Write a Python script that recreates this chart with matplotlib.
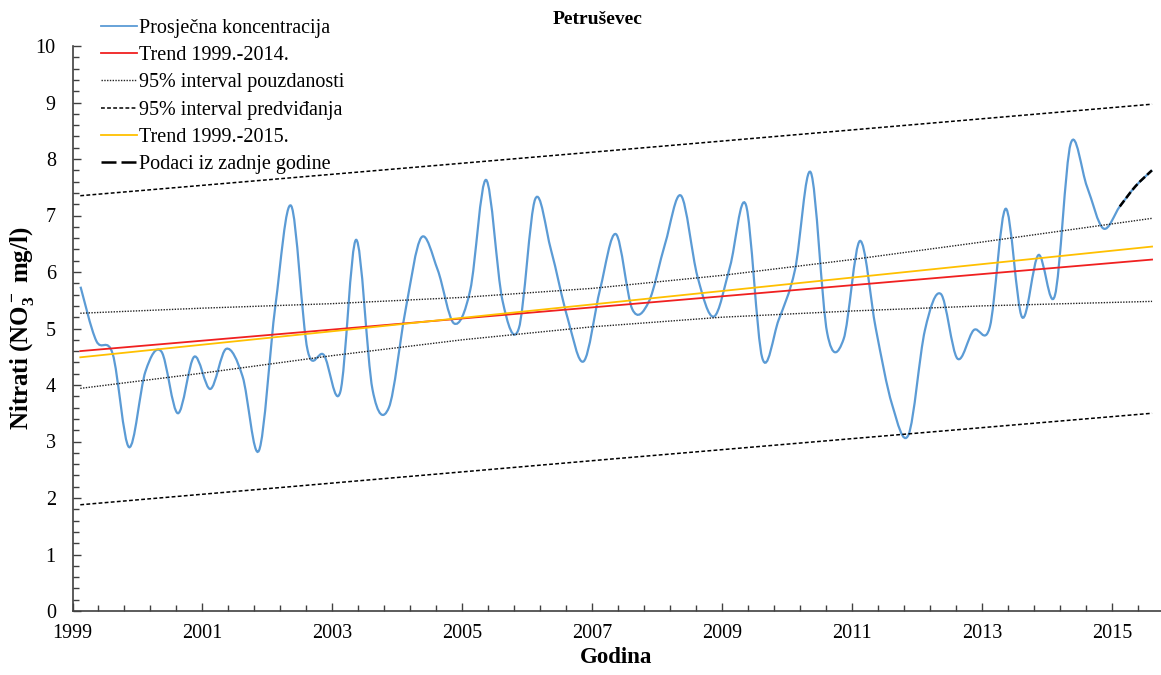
import numpy as np
import pandas as pd
import matplotlib
matplotlib.use("Agg")
import matplotlib.pyplot as plt
from matplotlib.path import Path
from matplotlib.patches import PathPatch
from matplotlib.lines import Line2D
from matplotlib.ticker import FixedLocator, FuncFormatter

plt.rcParams['font.family'] = ['Liberation Serif', 'DejaVu Serif']
plt.rcParams['mathtext.fontset'] = 'custom'
plt.rcParams['mathtext.rm'] = 'Liberation Serif:bold'
plt.rcParams['mathtext.it'] = 'Liberation Serif:bold'
plt.rcParams['mathtext.bf'] = 'Liberation Serif:bold'

# quarterly sampling (Feb, May, Aug, Nov), 1999-02 .. 2015-08
dates = pd.date_range("1999-02-01", "2015-08-01", freq="3MS") + pd.Timedelta(days=14)
conc = [5.74, 4.78, 4.55, 2.90,
        4.24, 4.59, 3.50, 4.50,
        3.93, 4.64, 4.15, 2.84,
        5.40, 7.17, 4.62, 4.53,
        3.88, 6.57, 3.92, 3.60,
        5.30, 6.61, 6.04, 5.09,
        5.68, 7.63, 5.50, 5.00,
        7.29, 6.39, 5.20, 4.42,
        5.70, 6.67, 5.34, 5.47,
        6.50, 7.35, 5.92, 5.21,
        6.10, 7.19, 4.48, 5.15,
        6.04, 7.76, 4.92, 4.81,
        6.55, 5.00, 3.65, 3.12,
        4.97, 5.61, 4.47, 4.97,
        5.03, 7.12, 5.20, 6.30,
        5.58, 8.27, 7.51, 6.77,
        7.16, 7.52, 7.80]

# trend lines (start / end)
trend_x = [1999.12, 2015.62]
trend_9914 = [4.60, 6.22]
trend_9915 = [4.49, 6.45]

# 95% confidence band (read at several years)
ci_x = [1999.12, 2001, 2003, 2005, 2007, 2009, 2011, 2013, 2015.62]
ci_upper = [5.27, 5.36, 5.44, 5.55, 5.71, 5.94, 6.22, 6.53, 6.95]
ci_lower = [3.94, 4.21, 4.52, 4.80, 5.03, 5.20, 5.31, 5.40, 5.48]

# 95% prediction band
pi_x = [1999.12, 2007.3, 2015.62]
pi_upper = [7.35, 8.15, 8.97]
pi_lower = [1.88, 2.69, 3.50]

title = "Petruševec"
year_ticks = [1999, 2001, 2003, 2005, 2007, 2009, 2011, 2013, 2015]

c_blue = "#5B9BD5"
c_red = "#F02020"
c_yellow = "#FFC000"


def dec_year(d):
    return d.year + (d.dayofyear - 1) / 365.25


def smooth_path(x, y):
    # Excel-style smoothed line: cubic Bezier segments through the points
    p = np.column_stack([x, y])
    n = len(p)
    verts = [p[0]]
    codes = [Path.MOVETO]
    for i in range(n - 1):
        p0, p1 = p[max(i - 1, 0)], p[i]
        p2, p3 = p[i + 1], p[min(i + 2, n - 1)]
        verts += [p1 + (p2 - p0) / 6, p2 - (p3 - p1) / 6, p2]
        codes += [Path.CURVE4] * 3
    return Path(verts, codes)


x = np.array([dec_year(d) for d in dates])
y = np.array(conc)

fig = plt.figure(figsize=(11.61, 6.75), dpi=100)
ax = fig.add_axes([72.5 / 1161, 64 / 675, 1088 / 1161, 565 / 675])

ax.plot(pi_x, pi_upper, color="black", lw=1.1, ls=(0, (2.5, 1.5)))
ax.plot(pi_x, pi_lower, color="black", lw=1.1, ls=(0, (2.5, 1.5)))
ax.plot(ci_x, ci_upper, color="#222222", lw=1.0, ls=(0, (1, 1)))
ax.plot(ci_x, ci_lower, color="#222222", lw=1.0, ls=(0, (1, 1)))
ax.plot(trend_x, trend_9914, color=c_red, lw=1.3)
ax.plot(trend_x, trend_9915, color=c_yellow, lw=1.3)

ax.add_patch(PathPatch(smooth_path(x, y), fill=False, edgecolor=c_blue, lw=1.6))
last = x >= 2015
ax.add_patch(PathPatch(smooth_path(x[last], y[last]), fill=False, edgecolor="black",
                       lw=1.8, ls=(0, (3, 1.2))))

ax.set_xlim(1999, 2015.75)
ax.set_ylim(0, 10)
ax.xaxis.set_major_locator(FixedLocator(year_ticks))
ax.xaxis.set_minor_locator(FixedLocator(np.arange(1999, 2015.8, 0.4)))
ax.xaxis.set_major_formatter(FuncFormatter(lambda v, p: f"{v:.0f}"))
ax.yaxis.set_major_locator(FixedLocator(range(0, 11)))
ax.yaxis.set_minor_locator(FixedLocator(np.arange(0, 10.01, 0.2)))
ax.tick_params(which="both", direction="in", colors="#404040", labelcolor="black",
               labelsize=14.5, width=1)
ax.tick_params(which="major", length=6)
ax.tick_params(which="minor", length=4)
ax.tick_params(axis="x", pad=9)
ax.tick_params(axis="y", pad=12)
for s in ["top", "right"]:
    ax.spines[s].set_visible(False)
for s in ["left", "bottom"]:
    ax.spines[s].set_color("#404040")
    ax.spines[s].set_linewidth(1.2)

ax.set_xlabel("Godina", fontsize=16.5, fontweight="bold", labelpad=3)
ax.set_ylabel(r"Nitrati (NO$_3^-$ mg/l)", fontsize=18, fontweight="bold", labelpad=0)
fig.text(598 / 1161, 1 - 20 / 675, title, ha="center", va="center",
         fontsize=14, fontweight="bold")

handles = [
    Line2D([], [], color=c_blue, lw=1.3),
    Line2D([], [], color=c_red, lw=1.3),
    Line2D([], [], color="#222222", lw=1.0, ls=(0, (1, 1))),
    Line2D([], [], color="black", lw=1.1, ls=(0, (2.5, 1.5))),
    Line2D([], [], color=c_yellow, lw=1.3),
    Line2D([], [], color="black", lw=1.8, ls=(0, (6, 2))),
]
labels = ["Prosječna koncentracija", "Trend 1999.-2014.", "95% interval pouzdanosti",
          "95% interval predviđanja", "Trend 1999.-2015.", "Podaci iz zadnje godine"]
fig.legend(handles, labels, loc="upper left", bbox_to_anchor=(87 / 1161, 1 - 5 / 675),
           frameon=False, fontsize=14.5, handlelength=1.8, handletextpad=0.1,
           labelspacing=0.4, borderpad=0.2)

fig.savefig("out.png", dpi=100)
